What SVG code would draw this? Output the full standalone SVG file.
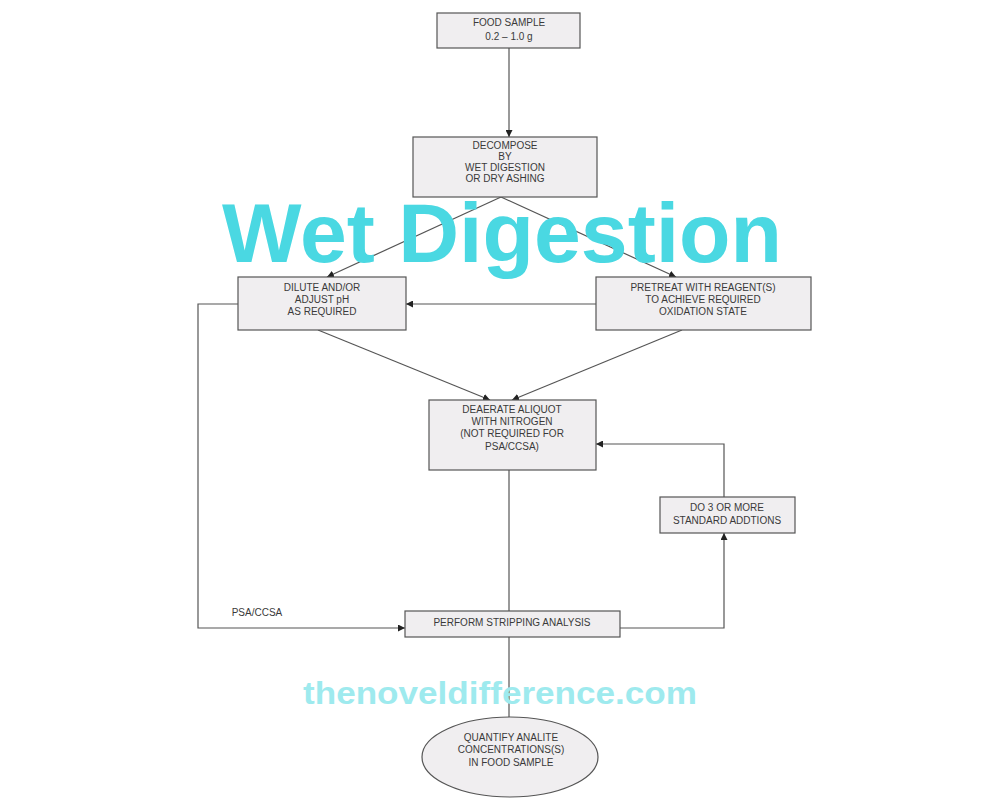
<svg xmlns="http://www.w3.org/2000/svg" width="1000" height="800" viewBox="0 0 1000 800">
<defs>
<style>
.box{fill:#f0eef0;stroke:#555;stroke-width:1.2}
.t{font-family:"Liberation Sans",Arial,sans-serif;font-size:10px;fill:#3a3a3a;text-anchor:middle}
.c{fill:none;stroke:#555;stroke-width:1.2}
.wm1{font-family:"Liberation Sans",Arial,sans-serif;font-weight:bold;font-size:84px;fill:#4ad8e2;text-anchor:middle}
.wm2{font-family:"Liberation Sans",Arial,sans-serif;font-weight:bold;font-size:32px;fill:#9eeaee;text-anchor:middle}
</style>
<marker id="ah" viewBox="0 0 10 10" refX="10" refY="5" markerWidth="7" markerHeight="7" orient="auto" markerUnits="userSpaceOnUse">
<path d="M0,0 L10,5 L0,10 z" fill="#222"/>
</marker>
</defs>
<rect width="1000" height="800" fill="#fff"/>
<g id="connectors">
<path class="c" d="M509,48 L509,137" marker-end="url(#ah)"/>
<path class="c" d="M501,197 L327,277" marker-end="url(#ah)"/>
<path class="c" d="M501,197 L676,277" marker-end="url(#ah)"/>
<path class="c" d="M596,304 L406,304" marker-end="url(#ah)"/>
<path class="c" d="M318,330 L490,400" marker-end="url(#ah)"/>
<path class="c" d="M682,330 L512,400" marker-end="url(#ah)"/>
<path class="c" d="M509,470 L509,611"/>
<path class="c" d="M620,628 L724,628 L724,533" marker-end="url(#ah)"/>
<path class="c" d="M724,497 L724,444 L596,444" marker-end="url(#ah)"/>
<path class="c" d="M238,304 L198,304 L198,628 L405,628" marker-end="url(#ah)"/>
<path class="c" d="M509,637 L509,717"/>
<text class="t" x="257" y="616">PSA/CCSA</text>
</g>
<g id="food">
<rect class="box" x="437" y="13" width="143" height="35"/>
<text class="t" x="509" y="26">FOOD SAMPLE</text>
<text class="t" x="509" y="40">0.2 – 1.0 g</text>
</g>
<g id="decompose">
<rect class="box" x="413" y="137" width="184" height="60"/>
<text class="t" x="505" y="149">DECOMPOSE</text>
<text class="t" x="505" y="160">BY</text>
<text class="t" x="505" y="171">WET DIGESTION</text>
<text class="t" x="505" y="182">OR DRY ASHING</text>
</g>
<g id="dilute">
<rect class="box" x="238" y="277" width="168" height="53"/>
<text class="t" x="322" y="291">DILUTE AND/OR</text>
<text class="t" x="322" y="303">ADJUST pH</text>
<text class="t" x="322" y="315">AS REQUIRED</text>
</g>
<g id="pretreat">
<rect class="box" x="596" y="277" width="215" height="53"/>
<text class="t" x="703" y="291">PRETREAT WITH REAGENT(S)</text>
<text class="t" x="703" y="303">TO ACHIEVE REQUIRED</text>
<text class="t" x="703" y="315">OXIDATION STATE</text>
</g>
<g id="deaerate">
<rect class="box" x="429" y="400" width="167" height="70"/>
<text class="t" x="512" y="413">DEAERATE ALIQUOT</text>
<text class="t" x="512" y="425">WITH NITROGEN</text>
<text class="t" x="512" y="437">(NOT REQUIRED FOR</text>
<text class="t" x="512" y="450">PSA/CCSA)</text>
</g>
<g id="additions">
<rect class="box" x="660" y="497" width="135" height="36"/>
<text class="t" x="727" y="511">DO 3 OR MORE</text>
<text class="t" x="727" y="524">STANDARD ADDTIONS</text>
</g>
<g id="perform">
<rect class="box" x="405" y="611" width="215" height="26"/>
<text class="t" x="512" y="626">PERFORM STRIPPING ANALYSIS</text>
</g>
<g id="quantify">
<ellipse class="box" cx="510" cy="757" rx="88" ry="40"/>
<text class="t" x="511" y="741">QUANTIFY ANALITE</text>
<text class="t" x="511" y="753">CONCENTRATIONS(S)</text>
<text class="t" x="511" y="766">IN FOOD SAMPLE</text>
</g>
<text class="wm1" x="502" y="262" textLength="560" lengthAdjust="spacingAndGlyphs">Wet Digestion</text>
<text class="wm2" x="500" y="704" textLength="394" lengthAdjust="spacingAndGlyphs">thenoveldifference.com</text>
</svg>
